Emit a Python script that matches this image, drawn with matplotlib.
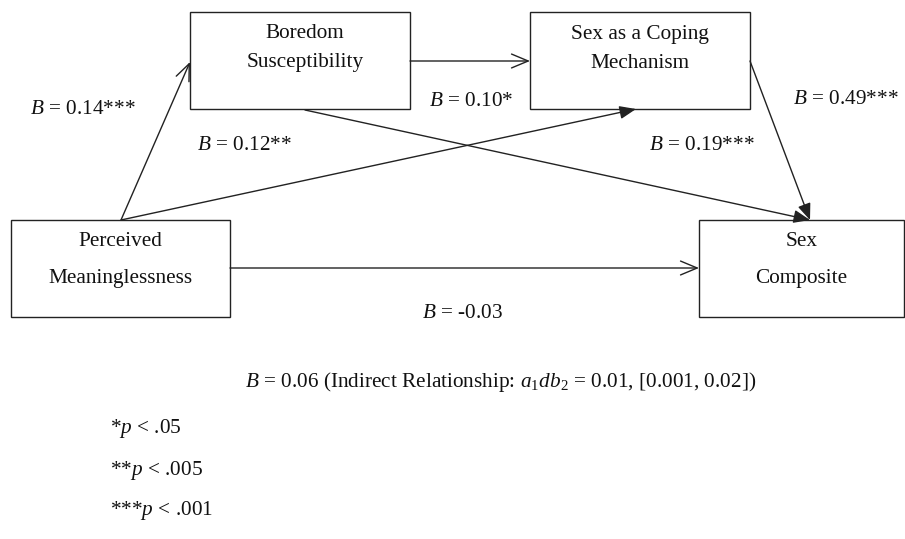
import matplotlib.pyplot as plt
from matplotlib.patches import Rectangle, FancyArrowPatch

plt.rcParams['font.family'] = 'Liberation Serif'
plt.rcParams['mathtext.fontset'] = 'custom'
plt.rcParams['mathtext.rm'] = 'Liberation Serif'
plt.rcParams['mathtext.it'] = 'Liberation Serif:italic'

# variables in the model
nodes = ["Boredom\nSusceptibility", "Sex as a Coping\nMechanism",
         "Perceived\nMeaninglessness", "Sex\nComposite"]
# path coefficients
coefs = ["0.14***", "0.12**", "0.10*", "0.19***", "0.49***", "-0.03"]
indirect = "$B$ = 0.06 (Indirect Relationship: $a_1db_2$ = 0.01, [0.001, 0.02])"
notes = ["*$p$ < .05", "**$p$ < .005", "***$p$ < .001"]

fig = plt.figure(figsize=(9.05, 5.39), dpi=100)
ax = fig.add_axes([0, 0, 1, 1])
ax.set_xlim(0, 905)
ax.set_ylim(539, 0)
ax.axis('off')

# boxes: x0, y0, w, h  (pixel layout)
boxes = [(190, 12, 220, 97), (530, 12, 220, 97), (11, 220, 219, 97), (699, 220, 205, 97)]
text_y = [(34, 63), (34, 63), (242, 279), (242, 279)]
for (x, y, w, h), name, ty in zip(boxes, nodes, text_y):
    ax.add_patch(Rectangle((x, y), w, h, fill=False, lw=1.0, ec='#222222'))
    for line, yy in zip(name.split("\n"), ty):
        ax.text(x + w / 2 + (5 if name.startswith("Bore") else 0), yy, line,
                ha='center', va='center', fontsize=15.3, color='#111111')


def arrow(p0, p1, filled):
    style = '-|>,head_length=0.5,head_width=0.2' if filled else '->,head_length=0.6,head_width=0.25'
    a = FancyArrowPatch(p0, p1, arrowstyle=style, mutation_scale=20, lw=1.0,
                        color='#222222', shrinkA=0, shrinkB=0)
    ax.add_patch(a)


arrow((121, 220), (190, 62), False)
arrow((121, 220), (636, 109), True)
arrow((410, 61), (530, 61), False)
arrow((305, 110), (810, 220), True)
arrow((750, 61), (810, 220), True)
arrow((230, 268), (699, 268), False)

label_pos = [(83, 110), (245, 146), (471, 102), (702, 145), (846, 100), (462, 314)]
for c, (x, y) in zip(coefs, label_pos):
    ax.text(x, y, "$B$ = " + c, ha='center', va='center', fontsize=15.3, color='#111111')

ax.text(501, 382, indirect, ha='center', va='center', fontsize=15.3, color='#111111')
for i, n in enumerate(notes):
    ax.text(110, 429 + 41 * i, n, ha='left', va='center', fontsize=15.3, color='#111111')

fig.savefig('out.png', dpi=100)
